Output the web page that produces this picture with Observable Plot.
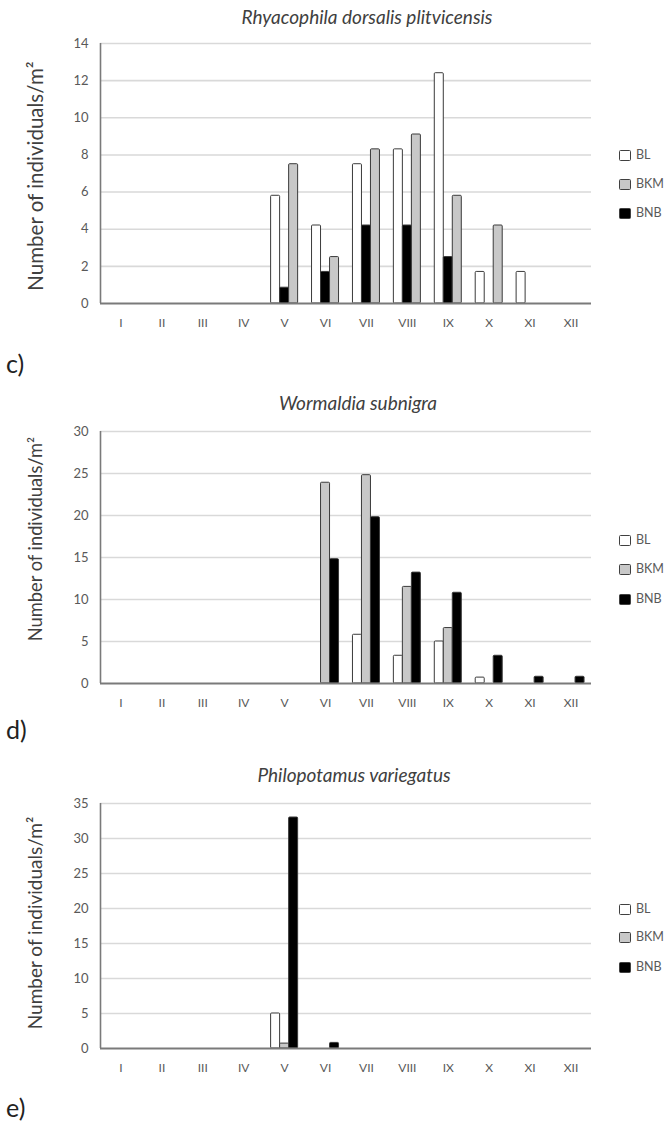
<!DOCTYPE html>
<html>
<head>
<meta charset="utf-8">
<script src="https://cdn.jsdelivr.net/npm/d3@7"></script>
<script src="https://cdn.jsdelivr.net/npm/@observablehq/plot@0.6"></script>
<style>
  html, body { margin: 0; padding: 0; background: #fff; }
  #root { position: relative; width: 670px; height: 1121px; overflow: hidden; font-family: Lato, "Open Sans", sans-serif; }
  .abs { position: absolute; }
  .title { font-style: italic; font-size: 19px; color: #404040; text-align: center; width: 420px; line-height: 24px; }
  .ylab { color: #404040; text-align: center; width: 320px; line-height: 24px; transform: rotate(-90deg); white-space: nowrap; }
  .panel { font-size: 25px; color: #222; line-height: 30px; }
  .leg { font-size: 12.5px; color: #595959; line-height: 14px; display: flex; align-items: center; }
  .sw { width: 10px; height: 9px; border: 1px solid #404040; border-radius: 1.5px; margin-right: 5px; }
</style>
</head>
<body>
<div id="root"></div>
<script>
// ---- data ----
const months = ["I","II","III","IV","V","VI","VII","VIII","IX","X","XI","XII"];
const sites = ["BL","BKM","BNB"];
const siteColors = ["#ffffff","#c8c8c8","#000000"];

// c) Rhyacophila dorsalis plitvicensis
const rhyBL  = [0,0,0,0,5.8,4.2,7.5,8.3,12.4,1.7,1.7,0];
const rhyBKM = [0,0,0,0,7.5,2.5,8.3,9.1,5.8,4.2,0,0];
const rhyBNB = [0,0,0,0,0.85,1.7,4.2,4.2,2.5,0,0,0];
const rhyOrder = ["BL","BNB","BKM"];
const rhyTicks = [0,2,4,6,8,10,12,14];

// d) Wormaldia subnigra
const worBL  = [0,0,0,0,0,0,5.8,3.3,5.0,0.7,0,0];
const worBKM = [0,0,0,0,0,23.9,24.8,11.5,6.6,0,0,0];
const worBNB = [0,0,0,0,0,14.8,19.8,13.2,10.8,3.3,0.8,0.8];
const worOrder = ["BL","BKM","BNB"];
const worTicks = [0,5,10,15,20,25,30];

// e) Philopotamus variegatus
const phiBL  = [0,0,0,0,5.0,0,0,0,0,0,0,0];
const phiBKM = [0,0,0,0,0.7,0,0,0,0,0,0,0];
const phiBNB = [0,0,0,0,33,0.8,0,0,0,0,0,0];
const phiOrder = ["BL","BKM","BNB"];
const phiTicks = [0,5,10,15,20,25,30,35];

const yLabel = "Number of individuals/m²";

const panels = [
  {title: "Rhyacophila dorsalis plitvicensis", tag: "c)", series: {BL: rhyBL, BKM: rhyBKM, BNB: rhyBNB}, order: rhyOrder, ticks: rhyTicks,
   svgTop: 33, plotH: 260, titleX: 367, titleY: 17, ylabY: 176, ylabSize: 20.5, tagY: 363, legY: [155,184,213]},
  {title: "Wormaldia subnigra", tag: "d)", series: {BL: worBL, BKM: worBKM, BNB: worBNB}, order: worOrder, ticks: worTicks,
   svgTop: 421, plotH: 252, titleX: 358, titleY: 403, ylabY: 539, ylabSize: 18.3, tagY: 729, legY: [540,569,599]},
  {title: "Philopotamus variegatus", tag: "e)", series: {BL: phiBL, BKM: phiBKM, BNB: phiBNB}, order: phiOrder, ticks: phiTicks,
   svgTop: 793, plotH: 245, titleX: 354, titleY: 775, ylabY: 923, ylabSize: 19, tagY: 1107, legY: [909,937,967]}
];

const root = document.getElementById("root");
const mTop = 10, mBottom = 35, mLeft = 100, mRight = 9, W = 600;
const groupW = 0.66, barW = groupW / 3;

function addDiv(cls, html, style) {
  const d = document.createElement("div");
  d.className = "abs " + cls;
  d.innerHTML = html;
  Object.assign(d.style, style);
  root.appendChild(d);
  return d;
}

for (const p of panels) {
  const rows = [];
  p.order.forEach((site, k) => {
    p.series[site].forEach((v, i) => {
      if (v > 0) rows.push({m: i + 1, k, site, value: v});
    });
  });
  const ymax = p.ticks[p.ticks.length - 1];
  const chart = Plot.plot({
    width: W,
    height: mTop + p.plotH + mBottom,
    marginTop: mTop, marginBottom: mBottom, marginLeft: mLeft, marginRight: mRight,
    style: {fontFamily: "Lato, 'Open Sans', sans-serif", background: "#fff", overflow: "visible"},
    x: {type: "linear", domain: [0.5, 12.5]},
    y: {domain: [0, ymax]},
    color: {domain: sites, range: siteColors},
    marks: [
      Plot.gridY(p.ticks.filter(t => t > 0), {stroke: "#d9d9d9", strokeOpacity: 1, strokeWidth: 1.6}),
      Plot.rect(rows, {
        x1: d => d.m - groupW / 2 + d.k * barW,
        x2: d => d.m - groupW / 2 + (d.k + 1) * barW,
        y1: 0, y2: "value",
        fill: "site", stroke: "#3a3a3a", strokeWidth: 1, rx: 1
      }),
      Plot.ruleX([0.5], {stroke: "#7a7a7a", strokeWidth: 1.6}),
      Plot.ruleY([0], {stroke: "#7a7a7a", strokeWidth: 2}),
      Plot.axisX(d3.range(1, 13), {tickFormat: i => months[i - 1], tickSize: 0, tickPadding: 15, fontSize: 12, color: "#595959", label: null}),
      Plot.axisY(p.ticks, {tickSize: 0, tickPadding: 12, fontSize: 13, color: "#595959", label: null})
    ]
  });
  chart.style.position = "absolute";
  chart.style.left = "0px";
  chart.style.top = p.svgTop + "px";
  root.appendChild(chart);

  addDiv("title", p.title, {left: (p.titleX - 210) + "px", top: (p.titleY - 12) + "px"});
  addDiv("ylab", yLabel, {left: (35 - 160) + "px", top: (p.ylabY - 12) + "px", fontSize: p.ylabSize + "px"});
  addDiv("panel", p.tag, {left: "6px", top: (p.tagY - 15) + "px"});
  sites.forEach((s, j) => {
    addDiv("leg", `<span class="sw" style="background:${siteColors[j]}"></span>${s}`, {left: "619px", top: (p.legY[j] - 7) + "px"});
  });
}
</script>
</body>
</html>
